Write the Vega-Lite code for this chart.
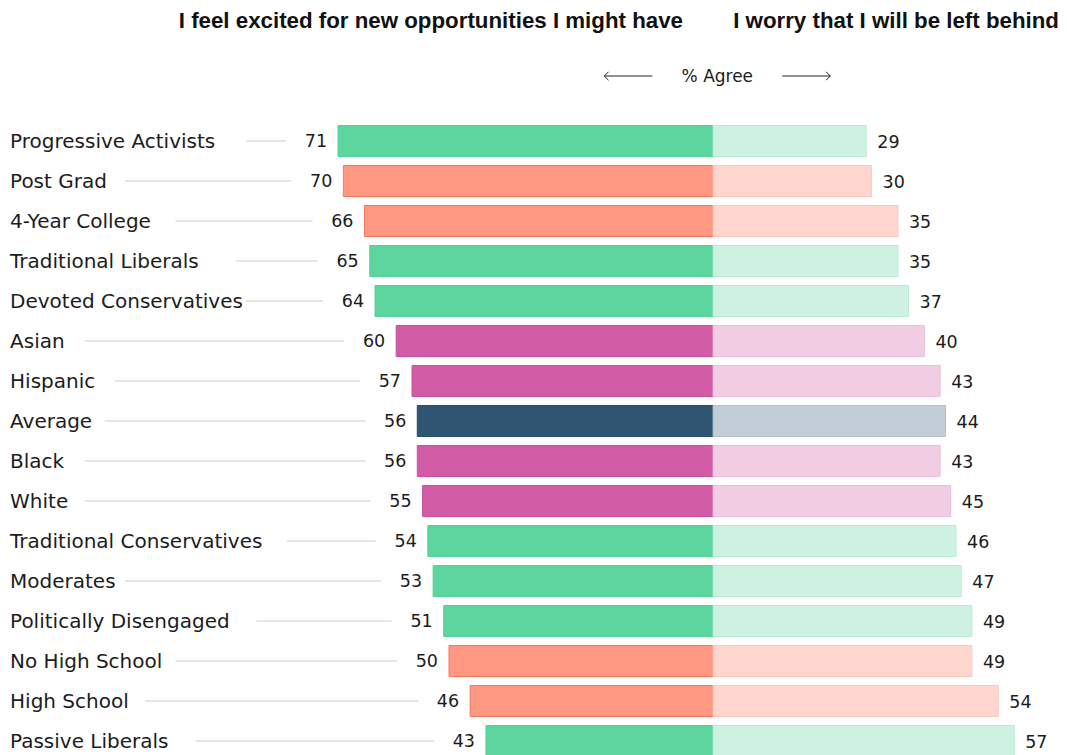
{
  "$schema": "https://vega.github.io/schema/vega-lite/v6.json",
  "width": 1067,
  "height": 760,
  "autosize": "none",
  "padding": {"top": 1, "left": 0, "right": 0, "bottom": 0},
  "background": "white",
  "config": {
    "view": {"stroke": null},
    "axis": {"disable": true},
    "legend": {"disable": true},
    "text": {"font": "DejaVu Sans", "color": "#1c1c1c"}
  },
  "datasets": {
    "rows": [
      {"label": "Progressive Activists", "group": "party", "excited": 71, "worry": 29},
      {"label": "Post Grad", "group": "edu", "excited": 70, "worry": 30},
      {"label": "4-Year College", "group": "edu", "excited": 66, "worry": 35},
      {"label": "Traditional Liberals", "group": "party", "excited": 65, "worry": 35},
      {"label": "Devoted Conservatives", "group": "party", "excited": 64, "worry": 37},
      {"label": "Asian", "group": "race", "excited": 60, "worry": 40},
      {"label": "Hispanic", "group": "race", "excited": 57, "worry": 43},
      {"label": "Average", "group": "avg", "excited": 56, "worry": 44},
      {"label": "Black", "group": "race", "excited": 56, "worry": 43},
      {"label": "White", "group": "race", "excited": 55, "worry": 45},
      {"label": "Traditional Conservatives", "group": "party", "excited": 54, "worry": 46},
      {"label": "Moderates", "group": "party", "excited": 53, "worry": 47},
      {"label": "Politically Disengaged", "group": "party", "excited": 51, "worry": 49},
      {"label": "No High School", "group": "edu", "excited": 50, "worry": 49},
      {"label": "High School", "group": "edu", "excited": 46, "worry": 54},
      {"label": "Passive Liberals", "group": "party", "excited": 43, "worry": 57}
    ]
  },
  "data": {"name": "rows"},
  "layer": [
    {
      "transform": [{"calculate": "133.1 - (length(datum.label) * 10.1 + 24) / 5.28", "as": "ls"}],
      "mark": {"type": "rule", "color": "#dedede", "strokeWidth": 1.5, "xOffset": -52},
      "encoding": {
        "x": {"field": "excited", "type": "quantitative", "scale": {"domain": [-67, 135], "reverse": true, "nice": false, "zero": false}},
        "x2": {"field": "ls"},
        "y": {"field": "label", "type": "nominal", "sort": null, "scale": {"domain": ["h0", "h1", "h2", "Progressive Activists", "Post Grad", "4-Year College", "Traditional Liberals", "Devoted Conservatives", "Asian", "Hispanic", "Average", "Black", "White", "Traditional Conservatives", "Moderates", "Politically Disengaged", "No High School", "High School", "Passive Liberals"], "paddingInner": 0.225, "paddingOuter": 0.1125}}
      }
    },
    {
      "mark": {"type": "bar", "strokeWidth": 1},
      "encoding": {
        "x": {"field": "excited", "type": "quantitative", "stack": null, "scale": {"domain": [-67, 135], "reverse": true, "nice": false, "zero": false}},
        "y": {"field": "label", "type": "nominal", "sort": null, "scale": {"domain": ["h0", "h1", "h2", "Progressive Activists", "Post Grad", "4-Year College", "Traditional Liberals", "Devoted Conservatives", "Asian", "Hispanic", "Average", "Black", "White", "Traditional Conservatives", "Moderates", "Politically Disengaged", "No High School", "High School", "Passive Liberals"], "paddingInner": 0.225, "paddingOuter": 0.1125}},
        "color": {"field": "group", "type": "nominal", "scale": {"domain": ["party", "edu", "race", "avg"], "range": ["#5cd69e", "#ff9882", "#d15ca5", "#2f5573"]}},
        "stroke": {"field": "group", "type": "nominal", "scale": {"domain": ["party", "edu", "race", "avg"], "range": ["#52d096", "#f57a5e", "#c9539c", "#294c68"]}}
      }
    },
    {
      "mark": {"type": "bar", "strokeWidth": 1},
      "encoding": {
        "x": {"field": "worry", "type": "quantitative", "stack": null, "scale": {"domain": [-135, 67], "nice": false, "zero": false}},
        "y": {"field": "label", "type": "nominal", "sort": null, "scale": {"domain": ["h0", "h1", "h2", "Progressive Activists", "Post Grad", "4-Year College", "Traditional Liberals", "Devoted Conservatives", "Asian", "Hispanic", "Average", "Black", "White", "Traditional Conservatives", "Moderates", "Politically Disengaged", "No High School", "High School", "Passive Liberals"], "paddingInner": 0.225, "paddingOuter": 0.1125}},
        "color": {"field": "group", "type": "nominal", "scale": {"domain": ["party", "edu", "race", "avg"], "range": ["#cef2e1", "#ffd6ce", "#f0cde3", "#c2cdd8"]}},
        "stroke": {"field": "group", "type": "nominal", "scale": {"domain": ["party", "edu", "race", "avg"], "range": ["#bdecd5", "#ffc9be", "#eac1da", "#b4c1cd"]}}
      }
    },
    {
      "mark": {"type": "text", "align": "right", "baseline": "middle", "dx": -11, "dy": 1, "fontSize": 17.5},
      "encoding": {
        "x": {"field": "excited", "type": "quantitative", "scale": {"domain": [-67, 135], "reverse": true, "nice": false, "zero": false}},
        "y": {"field": "label", "type": "nominal", "sort": null, "scale": {"domain": ["h0", "h1", "h2", "Progressive Activists", "Post Grad", "4-Year College", "Traditional Liberals", "Devoted Conservatives", "Asian", "Hispanic", "Average", "Black", "White", "Traditional Conservatives", "Moderates", "Politically Disengaged", "No High School", "High School", "Passive Liberals"], "paddingInner": 0.225, "paddingOuter": 0.1125}},
        "text": {"field": "excited", "type": "quantitative"}
      }
    },
    {
      "mark": {"type": "text", "align": "left", "baseline": "middle", "dx": 11, "dy": 2, "fontSize": 17.5},
      "encoding": {
        "x": {"field": "worry", "type": "quantitative", "scale": {"domain": [-135, 67], "nice": false, "zero": false}},
        "y": {"field": "label", "type": "nominal", "sort": null, "scale": {"domain": ["h0", "h1", "h2", "Progressive Activists", "Post Grad", "4-Year College", "Traditional Liberals", "Devoted Conservatives", "Asian", "Hispanic", "Average", "Black", "White", "Traditional Conservatives", "Moderates", "Politically Disengaged", "No High School", "High School", "Passive Liberals"], "paddingInner": 0.225, "paddingOuter": 0.1125}},
        "text": {"field": "worry", "type": "quantitative"}
      }
    },
    {
      "mark": {"type": "text", "align": "left", "baseline": "middle", "dy": 1, "fontSize": 20},
      "encoding": {
        "x": {"datum": -133.1, "type": "quantitative", "scale": {"domain": [-135, 67], "nice": false, "zero": false}},
        "y": {"field": "label", "type": "nominal", "sort": null, "scale": {"domain": ["h0", "h1", "h2", "Progressive Activists", "Post Grad", "4-Year College", "Traditional Liberals", "Devoted Conservatives", "Asian", "Hispanic", "Average", "Black", "White", "Traditional Conservatives", "Moderates", "Politically Disengaged", "No High School", "High School", "Passive Liberals"], "paddingInner": 0.225, "paddingOuter": 0.1125}},
        "text": {"field": "label", "type": "nominal"}
      }
    },
    {
      "data": {"values": [{"text": "I feel excited for new opportunities I might have"}]},
      "mark": {"type": "text", "align": "right", "baseline": "middle", "fontSize": 22.3, "fontWeight": "bold", "font": "Liberation Sans", "color": "#111111"},
      "encoding": {
        "x": {"datum": -5.7, "type": "quantitative", "scale": {"domain": [-135, 67], "nice": false, "zero": false}},
        "y": {"datum": "h0", "type": "nominal", "scale": {"domain": ["h0", "h1", "h2", "Progressive Activists", "Post Grad", "4-Year College", "Traditional Liberals", "Devoted Conservatives", "Asian", "Hispanic", "Average", "Black", "White", "Traditional Conservatives", "Moderates", "Politically Disengaged", "No High School", "High School", "Passive Liberals"], "paddingInner": 0.225, "paddingOuter": 0.1125}},
        "text": {"field": "text", "type": "nominal"}
      }
    },
    {
      "data": {"values": [{"text": "I worry that I will be left behind"}]},
      "mark": {"type": "text", "align": "left", "baseline": "middle", "fontSize": 22.3, "fontWeight": "bold", "font": "Liberation Sans", "color": "#111111"},
      "encoding": {
        "x": {"datum": 3.8, "type": "quantitative", "scale": {"domain": [-135, 67], "nice": false, "zero": false}},
        "y": {"datum": "h0", "type": "nominal", "scale": {"domain": ["h0", "h1", "h2", "Progressive Activists", "Post Grad", "4-Year College", "Traditional Liberals", "Devoted Conservatives", "Asian", "Hispanic", "Average", "Black", "White", "Traditional Conservatives", "Moderates", "Politically Disengaged", "No High School", "High School", "Passive Liberals"], "paddingInner": 0.225, "paddingOuter": 0.1125}},
        "text": {"field": "text", "type": "nominal"}
      }
    },
    {
      "data": {"values": [{"text": "% Agree"}]},
      "mark": {"type": "text", "align": "center", "baseline": "middle", "dy": 1, "fontSize": 17},
      "encoding": {
        "x": {"datum": 0.8, "type": "quantitative", "scale": {"domain": [-135, 67], "nice": false, "zero": false}},
        "y": {"datum": "h1", "type": "nominal", "bandPosition": 0.984, "scale": {"domain": ["h0", "h1", "h2", "Progressive Activists", "Post Grad", "4-Year College", "Traditional Liberals", "Devoted Conservatives", "Asian", "Hispanic", "Average", "Black", "White", "Traditional Conservatives", "Moderates", "Politically Disengaged", "No High School", "High School", "Passive Liberals"], "paddingInner": 0.225, "paddingOuter": 0.1125}},
        "text": {"field": "text", "type": "nominal"}
      }
    },
    {
      "data": {"values": [{"arrow": "left"}]},
      "mark": {"type": "rule", "color": "#222222", "strokeWidth": 1},
      "encoding": {
        "x": {"datum": -20.6, "type": "quantitative", "scale": {"domain": [-135, 67], "nice": false, "zero": false}},
        "x2": {"datum": -11.5},
        "y": {"datum": "h1", "type": "nominal", "bandPosition": 0.984, "scale": {"domain": ["h0", "h1", "h2", "Progressive Activists", "Post Grad", "4-Year College", "Traditional Liberals", "Devoted Conservatives", "Asian", "Hispanic", "Average", "Black", "White", "Traditional Conservatives", "Moderates", "Politically Disengaged", "No High School", "High School", "Passive Liberals"], "paddingInner": 0.225, "paddingOuter": 0.1125}}
      }
    },
    {
      "data": {"values": [{"arrow": "right"}]},
      "mark": {"type": "rule", "color": "#222222", "strokeWidth": 1},
      "encoding": {
        "x": {"datum": 13.1, "type": "quantitative", "scale": {"domain": [-135, 67], "nice": false, "zero": false}},
        "x2": {"datum": 22.2},
        "y": {"datum": "h1", "type": "nominal", "bandPosition": 0.984, "scale": {"domain": ["h0", "h1", "h2", "Progressive Activists", "Post Grad", "4-Year College", "Traditional Liberals", "Devoted Conservatives", "Asian", "Hispanic", "Average", "Black", "White", "Traditional Conservatives", "Moderates", "Politically Disengaged", "No High School", "High School", "Passive Liberals"], "paddingInner": 0.225, "paddingOuter": 0.1125}}
      }
    },
    {
      "data": {"values": [{"arrow": "left"}]},
      "mark": {"type": "point", "shape": "M1,-1L0,0L1,1", "filled": false, "size": 70, "stroke": "#222222", "strokeWidth": 1, "opacity": 1},
      "encoding": {
        "x": {"datum": -20.6, "type": "quantitative", "scale": {"domain": [-135, 67], "nice": false, "zero": false}},
        "y": {"datum": "h1", "type": "nominal", "bandPosition": 0.984, "scale": {"domain": ["h0", "h1", "h2", "Progressive Activists", "Post Grad", "4-Year College", "Traditional Liberals", "Devoted Conservatives", "Asian", "Hispanic", "Average", "Black", "White", "Traditional Conservatives", "Moderates", "Politically Disengaged", "No High School", "High School", "Passive Liberals"], "paddingInner": 0.225, "paddingOuter": 0.1125}}
      }
    },
    {
      "data": {"values": [{"arrow": "right"}]},
      "mark": {"type": "point", "shape": "M-1,-1L0,0L-1,1", "filled": false, "size": 70, "stroke": "#222222", "strokeWidth": 1, "opacity": 1},
      "encoding": {
        "x": {"datum": 22.2, "type": "quantitative", "scale": {"domain": [-135, 67], "nice": false, "zero": false}},
        "y": {"datum": "h1", "type": "nominal", "bandPosition": 0.984, "scale": {"domain": ["h0", "h1", "h2", "Progressive Activists", "Post Grad", "4-Year College", "Traditional Liberals", "Devoted Conservatives", "Asian", "Hispanic", "Average", "Black", "White", "Traditional Conservatives", "Moderates", "Politically Disengaged", "No High School", "High School", "Passive Liberals"], "paddingInner": 0.225, "paddingOuter": 0.1125}}
      }
    }
  ],
  "resolve": {"scale": {"x": "independent", "color": "independent", "stroke": "independent"}}
}
